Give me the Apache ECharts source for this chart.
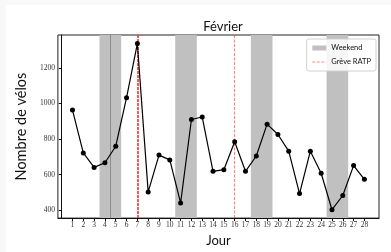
<!DOCTYPE html>
<html>
<head>
<meta charset="utf-8">
<script src="https://cdn.jsdelivr.net/npm/echarts@6/dist/echarts.min.js"></script>
<style>
  html, body { margin: 0; padding: 0; background: #f8f8f8; }
  #main { position: absolute; left: 6px; top: 5px; width: 385px; height: 247px; background: #fff; }
</style>
</head>
<body>
<div id="main"></div>
<script>
// données
const days = [1, 2, 3, 4, 5, 6, 7, 8, 9, 10, 11, 12, 13, 14, 15, 16, 17, 18, 19, 20, 21, 22, 23, 24, 25, 26, 27, 28];
const velos = [963, 722, 641, 667, 760, 1033, 1337, 503, 710, 683, 441, 910, 924, 619, 628, 785, 619, 705, 884, 826, 732, 494, 732, 608, 403, 483, 651, 574];
const weekends = [[3.5, 5.5], [10.5, 12.5], [17.5, 19.5], [24.5, 26.5]];
const greves = [7, 16];
const yTicks = [400, 600, 800, 1000, 1200];

const myChart = echarts.init(document.getElementById("main"));

const tickFont = { fontFamily: "Liberation Serif", fontSize: 7.5, color: "#333" };
const greveColor = "rgba(240,60,60,0.6)";

myChart.setOption({
  animation: false,
  title: {
    text: "Février",
    left: 212, top: 10,
    textAlign: "center",
    textStyle: { fontFamily: "Lato", fontSize: 13, fontWeight: "normal", color: "#111" }
  },
  legend: {
    orient: "vertical",
    right: 15, top: 34,
    padding: [4, 5],
    itemGap: 4,
    itemWidth: 14,
    itemHeight: 5,
    borderColor: "#d0d0d0",
    borderWidth: 1,
    borderRadius: 2,
    backgroundColor: "rgba(255,255,255,0.85)",
    selectedMode: false,
    textStyle: { fontFamily: "Lato", fontSize: 7.5, color: "#111", lineHeight: 10 },
    data: [
      { name: "Weekend", icon: "rect", itemStyle: { color: "#c0c0c0" } },
      { name: "Grève RATP", itemStyle: { opacity: 0 }, lineStyle: { color: greveColor, type: [3, 1.5], width: 1.2 } }
    ]
  },
  grid: { left: 51.5, right: 12, top: 30, bottom: 25, show: true, borderColor: "#222", borderWidth: 1 },
  xAxis: {
    type: "value",
    min: -0.35, max: 29.35,
    name: "Jour",
    nameLocation: "middle",
    nameGap: 14,
    nameTextStyle: { fontFamily: "Lato", fontSize: 13, color: "#111" },
    splitLine: { show: false },
    axisLine: { lineStyle: { color: "#111" } },
    axisTick: { customValues: days, length: 3, lineStyle: { color: "#111" } },
    axisLabel: Object.assign({ customValues: days, margin: 3 }, tickFont)
  },
  yAxis: {
    type: "value",
    min: 356, max: 1385,
    name: "Nombre de vélos",
    nameLocation: "middle",
    nameGap: 21,
    nameTextStyle: { fontFamily: "Lato", fontSize: 14.5, color: "#111" },
    splitLine: { show: false },
    axisLine: { show: true, lineStyle: { color: "#111" } },
    axisTick: { show: true, customValues: yTicks, length: 3, lineStyle: { color: "#111" } },
    axisLabel: Object.assign({ customValues: yTicks, margin: 3, formatter: v => String(v) }, tickFont)
  },
  series: [
    {
      // bandes grises des weekends
      name: "Weekend",
      type: "line",
      data: [],
      symbol: "none",
      z: 1,
      markArea: {
        silent: true,
        itemStyle: { color: "#c0c0c0" },
        label: { show: false },
        data: weekends.map(w => [{ xAxis: w[0] }, { xAxis: w[1] }])
      },
      markLine: {
        silent: true,
        symbol: "none",
        label: { show: false },
        lineStyle: { color: "#8c8c8c", type: "solid", width: 1 },
        data: [{ xAxis: 4.5 }]
      }
    },
    {
      name: "Grève RATP",
      type: "line",
      data: [],
      symbol: "none",
      z: 2,
      lineStyle: { color: greveColor, type: [3, 1.5], width: 1.2 },
      markLine: {
        silent: true,
        symbol: "none",
        label: { show: false },
        lineStyle: { color: greveColor, type: [3, 1.5], width: 1.2 },
        data: [{ xAxis: greves[1] }]
      }
    },
    {
      // première grève, trait plus foncé
      name: "Grève 1",
      type: "line",
      data: [],
      symbol: "none",
      z: 2,
      markLine: {
        silent: true,
        symbol: "none",
        label: { show: false },
        lineStyle: { color: "#ff1f1f", type: [3, 1], width: 1.5, opacity: 1 },
        data: [{ xAxis: greves[0] }]
      }
    },
    {
      name: "Vélos",
      type: "line",
      z: 5,
      data: days.map((d, i) => [d, velos[i]]),
      symbol: "circle",
      symbolSize: 5,
      itemStyle: { color: "#000" },
      lineStyle: { color: "#000", width: 1.2 }
    }
  ]
});
</script>
</body>
</html>
